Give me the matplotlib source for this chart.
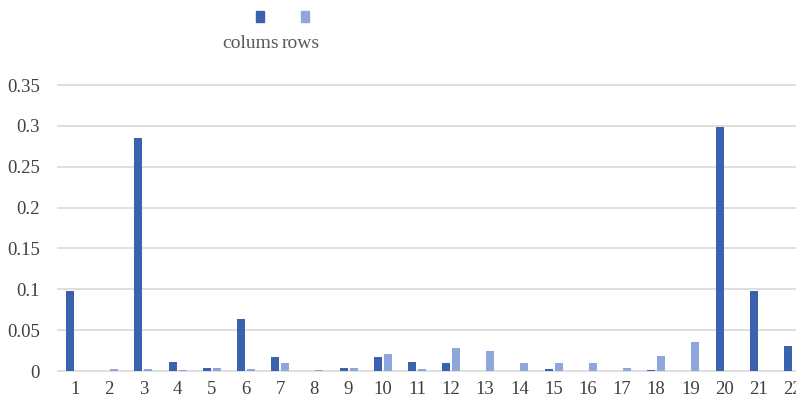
import numpy as np
import matplotlib
matplotlib.use("Agg")
import matplotlib.pyplot as plt
from matplotlib.patches import Rectangle

categories = [str(i) for i in range(1, 23)]
colums = [0.098, 0, 0.285, 0.0105, 0.0035, 0.0635, 0.0177, 0, 0.0037, 0.0168, 0.0107,
          0.0103, 0, 0, 0.003, 0, 0, 0.0012, 0, 0.298, 0.0975, 0.031]
rows = [0, 0.002, 0.0025, 0.0015, 0.0041, 0.0025, 0.0103, 0.0015, 0.0037, 0.0205, 0.002,
        0.0279, 0.0242, 0.0098, 0.0098, 0.0102, 0.0033, 0.0188, 0.036, 0, 0, 0]
yticks = [0, 0.05, 0.1, 0.15, 0.2, 0.25, 0.3, 0.35]
ytick_labels = ["0", "0.05", "0.1", "0.15", "0.2", "0.25", "0.3", "0.35"]

dark = "#3A62AE"
light = "#8EA6DA"

plt.rcParams['font.family'] = ['Liberation Serif', 'DejaVu Serif']

fig = plt.figure(figsize=(7.96, 4.08), dpi=100)
# axes runs past the right edge, the source image is cropped there
ax = fig.add_axes([58 / 796, 1 - 371 / 408, 752 / 796, (371 - 85) / 408])

x = np.arange(len(categories))
w = 0.234
ax.bar(x - 0.147, colums, w, color=dark, zorder=3)
ax.bar(x + 0.147, rows, w, color=light, zorder=3)

ax.set_xlim(-0.5, len(categories) - 0.5)
ax.set_ylim(0, 0.35)
ax.set_xticks(x)
ax.set_xticklabels(categories)
ax.set_yticks(yticks)
ax.set_yticklabels(ytick_labels)
ax.tick_params(axis='both', length=0, labelsize=13.5, colors="#404040")
ax.tick_params(axis='x', pad=7)
ax.tick_params(axis='y', pad=13)
for s in ax.spines.values():
    s.set_visible(False)
ax.grid(axis='y', color="#D9D9D9", linewidth=1.2, zorder=0)
ax.set_axisbelow(True)
for gl in ax.get_ygridlines():
    gl.set_clip_on(False)

# legend: swatch above label
for cx, col, lab, tx in [(260, dark, "colums", 251), (305, light, "rows", 301)]:
    fig.patches.append(Rectangle(((cx - 4) / 796, 1 - 22 / 408), 8 / 796, 11 / 408,
                                 transform=fig.transFigure, color=col))
    fig.text(tx / 796, 1 - 44 / 408, lab, ha='center', va='center',
             fontsize=14, color="#595959")

fig.savefig("out.png", dpi=100)
